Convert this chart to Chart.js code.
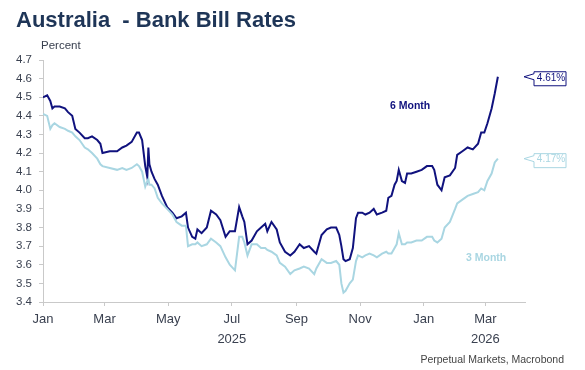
<!DOCTYPE html>
<html>
<head>
<meta charset="utf-8">
<script src="https://cdn.jsdelivr.net/npm/chart.js@4.4.1/dist/chart.umd.min.js"></script>
<style>
  html, body { margin: 0; padding: 0; background: #fff; }
  #wrap { width: 585px; height: 370px; }
</style>
</head>
<body>
<div id="wrap"><canvas id="myChart" width="585" height="370"></canvas></div>
<script>
// x = days since 1 Jan 2025
const days = [
    0, 4, 7, 9, 11, 16, 21, 24, 28, 31,
    35, 40, 43, 47, 52, 55, 57, 64, 71, 76,
    80, 85, 90, 92, 95, 98, 100, 101, 102, 104,
    107, 110, 114, 119, 124, 128, 133, 137, 139, 143,
    146, 148, 152, 157, 161, 166, 170, 175, 179, 184,
    188, 191, 193, 196, 200, 205, 209, 213, 215, 219,
    224, 227, 232, 237, 241, 246, 250, 255, 260, 262,
    267, 272, 276, 281, 284, 286, 288, 290, 294, 297,
    300, 302, 306, 309, 313, 317, 320, 325, 329, 331,
    334, 337, 339, 341, 344, 347, 349, 353, 358, 363,
    368, 373, 375, 378, 382, 385, 390, 395, 397, 402,
    407, 412, 417, 420, 423, 426, 430, 433, 436
];
const sixMonth = [
    4.50, 4.51, 4.48, 4.44, 4.45, 4.45, 4.44, 4.42, 4.40, 4.33,
    4.31, 4.28, 4.28, 4.29, 4.27, 4.25, 4.20, 4.21, 4.21, 4.23,
    4.24, 4.26, 4.31, 4.31, 4.27, 4.13, 4.07, 4.23, 4.14, 4.10,
    4.06, 4.03, 3.97, 3.91, 3.88, 3.85, 3.86, 3.88, 3.80, 3.75,
    3.74, 3.79, 3.77, 3.80, 3.89, 3.87, 3.84, 3.75, 3.78, 3.78,
    3.91, 3.86, 3.83, 3.71, 3.73, 3.78, 3.80, 3.82, 3.78, 3.83,
    3.79, 3.72, 3.67, 3.65, 3.67, 3.71, 3.69, 3.70, 3.67, 3.66,
    3.76, 3.79, 3.80, 3.80, 3.76, 3.70, 3.63, 3.62, 3.63, 3.69,
    3.85, 3.88, 3.88, 3.87, 3.88, 3.90, 3.87, 3.88, 3.89, 3.96,
    3.97, 4.03, 4.05, 4.11, 4.05, 4.04, 4.09, 4.09, 4.10, 4.11,
    4.13, 4.13, 4.11, 4.03, 4.00, 4.07, 4.08, 4.12, 4.19, 4.21,
    4.23, 4.22, 4.25, 4.31, 4.31, 4.36, 4.44, 4.52, 4.61
];
const threeMonth = [
    4.41, 4.40, 4.33, 4.35, 4.36, 4.34, 4.33, 4.32, 4.31, 4.29,
    4.27, 4.23, 4.22, 4.20, 4.17, 4.14, 4.13, 4.12, 4.11, 4.12,
    4.11, 4.12, 4.14, 4.13, 4.10, 4.02, 4.05, 4.06, 4.03, 4.03,
    4.01, 3.96, 3.93, 3.90, 3.87, 3.83, 3.81, 3.81, 3.70, 3.71,
    3.71, 3.72, 3.70, 3.71, 3.74, 3.72, 3.70, 3.64, 3.60, 3.57,
    3.75, 3.75, 3.72, 3.65, 3.71, 3.71, 3.69, 3.69, 3.68, 3.67,
    3.65, 3.61, 3.59, 3.55, 3.57, 3.58, 3.59, 3.58, 3.55, 3.58,
    3.63, 3.61, 3.61, 3.62, 3.60, 3.50, 3.45, 3.46, 3.50, 3.52,
    3.62, 3.65, 3.64, 3.65, 3.66, 3.65, 3.64, 3.66, 3.67, 3.66,
    3.66, 3.69, 3.71, 3.77, 3.71, 3.71, 3.72, 3.72, 3.73, 3.73,
    3.75, 3.75, 3.73, 3.72, 3.74, 3.80, 3.83, 3.90, 3.93, 3.95,
    3.97, 3.98, 3.99, 4.01, 4.00, 4.05, 4.09, 4.15, 4.17
];
const monthTicks = [0, 59, 120, 181, 243, 304, 365, 424];
const monthLabels = ['Jan', 'Mar', 'May', 'Jul', 'Sep', 'Nov', 'Jan', 'Mar'];
const yearLabels = ['', '', '', '2025', '', '', '', '2026'];
const yTicks = [3.4, 3.5, 3.6, 3.7, 3.8, 3.9, 4.0, 4.1, 4.2, 4.3, 4.4, 4.5, 4.6, 4.7];

const navy = '#10127e';
const light = '#a9d6e2';
const axisGrey = '#c9c9c9';
const textGrey = '#3a4150';
const FONT = '"Liberation Sans", Arial, sans-serif';

function toPoints(values) {
    return days.map((d, i) => ({ x: d, y: values[i] }));
}

// draws a value box with a "<" pointer at the series end
function endLabel(ctx, tipX, tipY, text, color) {
    const left = tipX + 10, right = tipX + 42;
    const top = tipY - 5, bottom = tipY + 9;
    ctx.beginPath();
    ctx.moveTo(left, top);
    ctx.lineTo(right, top);
    ctx.lineTo(right, bottom);
    ctx.lineTo(left, bottom);
    ctx.lineTo(left, tipY + 3);
    ctx.lineTo(tipX, tipY);
    ctx.lineTo(left, tipY - 3);
    ctx.closePath();
    ctx.fillStyle = '#fff';
    ctx.fill();
    ctx.lineWidth = 1;
    ctx.strokeStyle = color;
    ctx.stroke();
    ctx.fillStyle = color;
    ctx.font = '10px ' + FONT;
    ctx.textAlign = 'center';
    ctx.textBaseline = 'middle';
    ctx.fillText(text, (left + right) / 2 + 1, tipY + 1);
}

const textPlugin = {
    id: 'texts',
    afterDraw(chart) {
        const { ctx, scales: { y } } = chart;
        ctx.save();
        ctx.textBaseline = 'alphabetic';
        ctx.textAlign = 'left';
        ctx.fillStyle = '#1e3557';
        ctx.font = 'bold 22px ' + FONT;
        ctx.fillText('Australia  - Bank Bill Rates', 16, 27);

        ctx.fillStyle = textGrey;
        ctx.font = '11.5px ' + FONT;
        ctx.fillText('Percent', 41, 49);

        ctx.fillStyle = '#444';
        ctx.font = '10.5px ' + FONT;
        ctx.textAlign = 'right';
        ctx.fillText('Perpetual Markets, Macrobond', 564, 363);

        ctx.textAlign = 'left';
        ctx.font = 'bold 10.5px ' + FONT;
        ctx.fillStyle = navy;
        ctx.fillText('6 Month', 390, 109);
        ctx.fillStyle = light;
        ctx.fillText('3 Month', 466, 261);

        endLabel(ctx, 524, y.getPixelForValue(sixMonth[sixMonth.length - 1]),
            sixMonth[sixMonth.length - 1].toFixed(2) + '%', navy);
        endLabel(ctx, 524, y.getPixelForValue(threeMonth[threeMonth.length - 1]),
            threeMonth[threeMonth.length - 1].toFixed(2) + '%', light);
        ctx.restore();
    }
};

const ctx = document.getElementById('myChart');
const myChart = new Chart(ctx, {
    type: 'line',
    data: {
        datasets: [
            {
                label: '3 Month',
                data: toPoints(threeMonth),
                borderColor: light,
                borderWidth: 2,
                pointRadius: 0,
                tension: 0
            }, {
                label: '6 Month',
                data: toPoints(sixMonth),
                borderColor: navy,
                borderWidth: 2,
                pointRadius: 0,
                tension: 0
            }
        ]
    },
    options: {
        responsive: false,
        animation: false,
        layout: { padding: { top: 60, right: 60, left: 0, bottom: 0 } },
        plugins: {
            legend: { display: false },
            tooltip: { enabled: false }
        },
        scales: {
            x: {
                type: 'linear',
                min: 0,
                max: 462,
                afterBuildTicks: (axis) => {
                    axis.ticks = monthTicks.map(v => ({ value: v }));
                },
                afterFit: (axis) => { axis.height = 68; },
                ticks: {
                    autoSkip: false,
                    maxRotation: 0,
                    padding: 3,
                    color: textGrey,
                    font: { family: FONT, size: 13, lineHeight: 1.55 },
                    callback: (value, i) => yearLabels[i] ? [monthLabels[i], yearLabels[i]] : monthLabels[i]
                },
                grid: { drawOnChartArea: false, drawTicks: true, tickLength: 4, color: axisGrey },
                border: { color: axisGrey }
            },
            y: {
                min: 3.4,
                max: 4.7,
                afterBuildTicks: (axis) => {
                    axis.ticks = yTicks.map(v => ({ value: v }));
                },
                afterFit: (axis) => { axis.width = 43; },
                ticks: {
                    padding: 7,
                    color: textGrey,
                    font: { family: FONT, size: 11.5 },
                    callback: (value) => Number(value).toFixed(1)
                },
                grid: { drawOnChartArea: false, drawTicks: true, tickLength: 4, color: axisGrey },
                border: { color: axisGrey }
            }
        }
    },
    plugins: [textPlugin]
});
</script>
</body>
</html>
